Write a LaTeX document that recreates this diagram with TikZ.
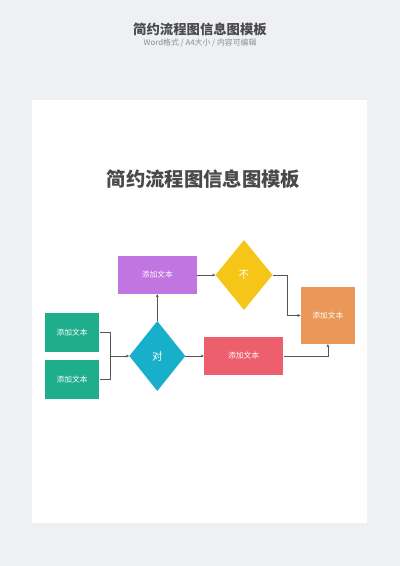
\documentclass[tikz,border=0pt]{standalone}
\usepackage{fontspec}
\setmainfont{Noto Sans CJK SC}
\usetikzlibrary{shapes.geometric,arrows.meta}

\definecolor{bggray}{HTML}{EEF0F4}
\definecolor{inkgray}{HTML}{4A4A4A}
\definecolor{subgray}{HTML}{8A8D92}
\definecolor{linegray}{HTML}{555555}
\definecolor{boxpurple}{HTML}{C175E0}
\definecolor{boxyellow}{HTML}{F5C517}
\definecolor{boxorange}{HTML}{EA9757}
\definecolor{boxgreen}{HTML}{1EAE8B}
\definecolor{boxteal}{HTML}{17AFC9}
\definecolor{boxred}{HTML}{EE5F6E}

\begin{document}
\begin{tikzpicture}[x=0.05cm,y=-0.05cm,
    box/.style={rectangle,inner sep=0pt,text=white,font=\fontsize{11}{12}\selectfont},
    gate/.style={diamond,inner sep=0pt,text=white,font=\fontsize{15}{17}\selectfont},
    link/.style={draw=linegray,line width=0.6pt,-{Stealth[length=4.5pt,width=4pt]}},
    joint/.style={draw=linegray,line width=0.6pt}]

        % background and page
        \fill[bggray](0,0)rectangle(400,566);
        \useasboundingbox(0,0)rectangle(400,566);
        \fill[black!6](31.5,99.5)rectangle(368,524.5);
        \fill[white](32.3,100)rectangle(367,523.3);

        % titles
        \node[text=inkgray,font=\fontsize{19}{22}\selectfont\bfseries](head)at(200,29){简约流程图信息图模板};
        \node[text=subgray,font=\fontsize{11.2}{12}\selectfont](sub)at(200,42.5){Word格式 / A4大小 / 内容可编辑};
        \node[text=inkgray,font=\fontsize{27.5}{32}\selectfont\bfseries](title)at(203.5,179){简约流程图信息图模板};

        % shapes
        \node[box,fill=boxgreen,minimum width=2.72cm,minimum height=1.93cm](in1)at(72.2,332.5){添加文本};
        \node[box,fill=boxgreen,minimum width=2.72cm,minimum height=1.93cm](in2)at(72.2,379.2){添加文本};
        \node[gate,fill=boxteal,minimum width=2.8cm,minimum height=3.5cm](yes)at(157.3,356){对};
        \node[box,fill=boxpurple,minimum width=3.95cm,minimum height=1.9cm](up)at(157.3,275){添加文本};
        \node[gate,fill=boxyellow,minimum width=2.85cm,minimum height=3.5cm](no)at(244,275){不};
        \node[box,fill=boxred,minimum width=3.97cm,minimum height=1.93cm](low)at(243.7,356){添加文本};
        \node[box,fill=boxorange,minimum width=2.72cm,minimum height=2.85cm](out)at(327.9,315.5){添加文本};

        % connectors
        \coordinate(merge)at(110,356);
        \draw[joint](in1.east)-|(merge);
        \draw[joint](in2.east)-|(merge);
        \draw[link](merge)--(yes.west);
        \draw[link](yes.north)--(up.south);
        \draw[link](yes.east)--(low.west);
        \draw[link](up.east)--(no.west);
        \draw[link](no.east)--++(14.5,0)|-(out.west);
        \draw[link](low.east)-|(out.south);
    \end{tikzpicture}
\end{document}
